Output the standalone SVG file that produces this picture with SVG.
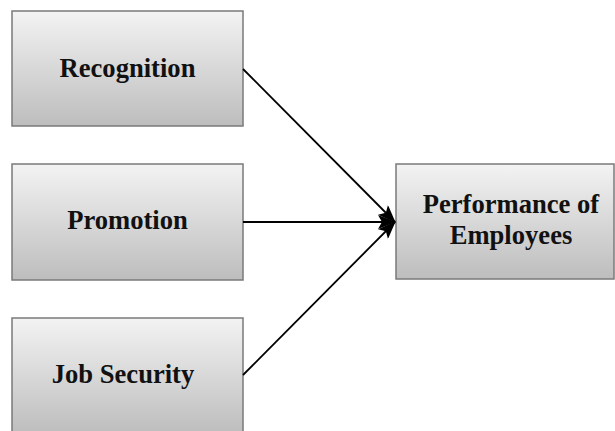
<svg xmlns="http://www.w3.org/2000/svg" width="615" height="431" viewBox="0 0 615 431">
  <style>
    .box { fill: url(#shade); stroke: #7a7a7a; stroke-width: 1.5; }
    .label { font-family: "Liberation Serif", "Times New Roman", serif; font-weight: bold; font-size: 26.6px; fill: #111; text-anchor: middle; }
    .link { stroke: #000; stroke-width: 1.8; fill: none; marker-end: url(#head); }
  </style>
  <defs>
    <linearGradient id="shade" x1="0" y1="0" x2="0" y2="1">
      <stop offset="0" stop-color="#f3f3f3"/>
      <stop offset="1" stop-color="#bdbdbd"/>
    </linearGradient>
    <marker id="head" viewBox="0 0 18 14" refX="17" refY="7" markerWidth="18" markerHeight="14" markerUnits="userSpaceOnUse" orient="auto">
      <path d="M0,0 L18,7 L0,14 L4,7 Z" fill="#000"/>
    </marker>
  </defs>

  <g id="recognition">
    <rect class="box" x="12" y="11" width="231" height="115"/>
    <text class="label" x="127.5" y="77">Recognition</text>
  </g>
  <g id="promotion">
    <rect class="box" x="12" y="164" width="231" height="116"/>
    <text class="label" x="127.5" y="229">Promotion</text>
  </g>
  <g id="job-security">
    <rect class="box" x="12" y="318" width="231" height="116"/>
    <text class="label" x="123" y="383">Job Security</text>
  </g>
  <g id="performance">
    <rect class="box" x="396" y="164" width="218" height="115"/>
    <text class="label" x="511" y="213">Performance of</text>
    <text class="label" x="511" y="244">Employees</text>
  </g>

  <g id="connectors">
    <line class="link" x1="243" y1="69" x2="395" y2="222"/>
    <line class="link" x1="243" y1="222" x2="395" y2="222"/>
    <line class="link" x1="243" y1="375" x2="395" y2="222"/>
  </g>
</svg>
